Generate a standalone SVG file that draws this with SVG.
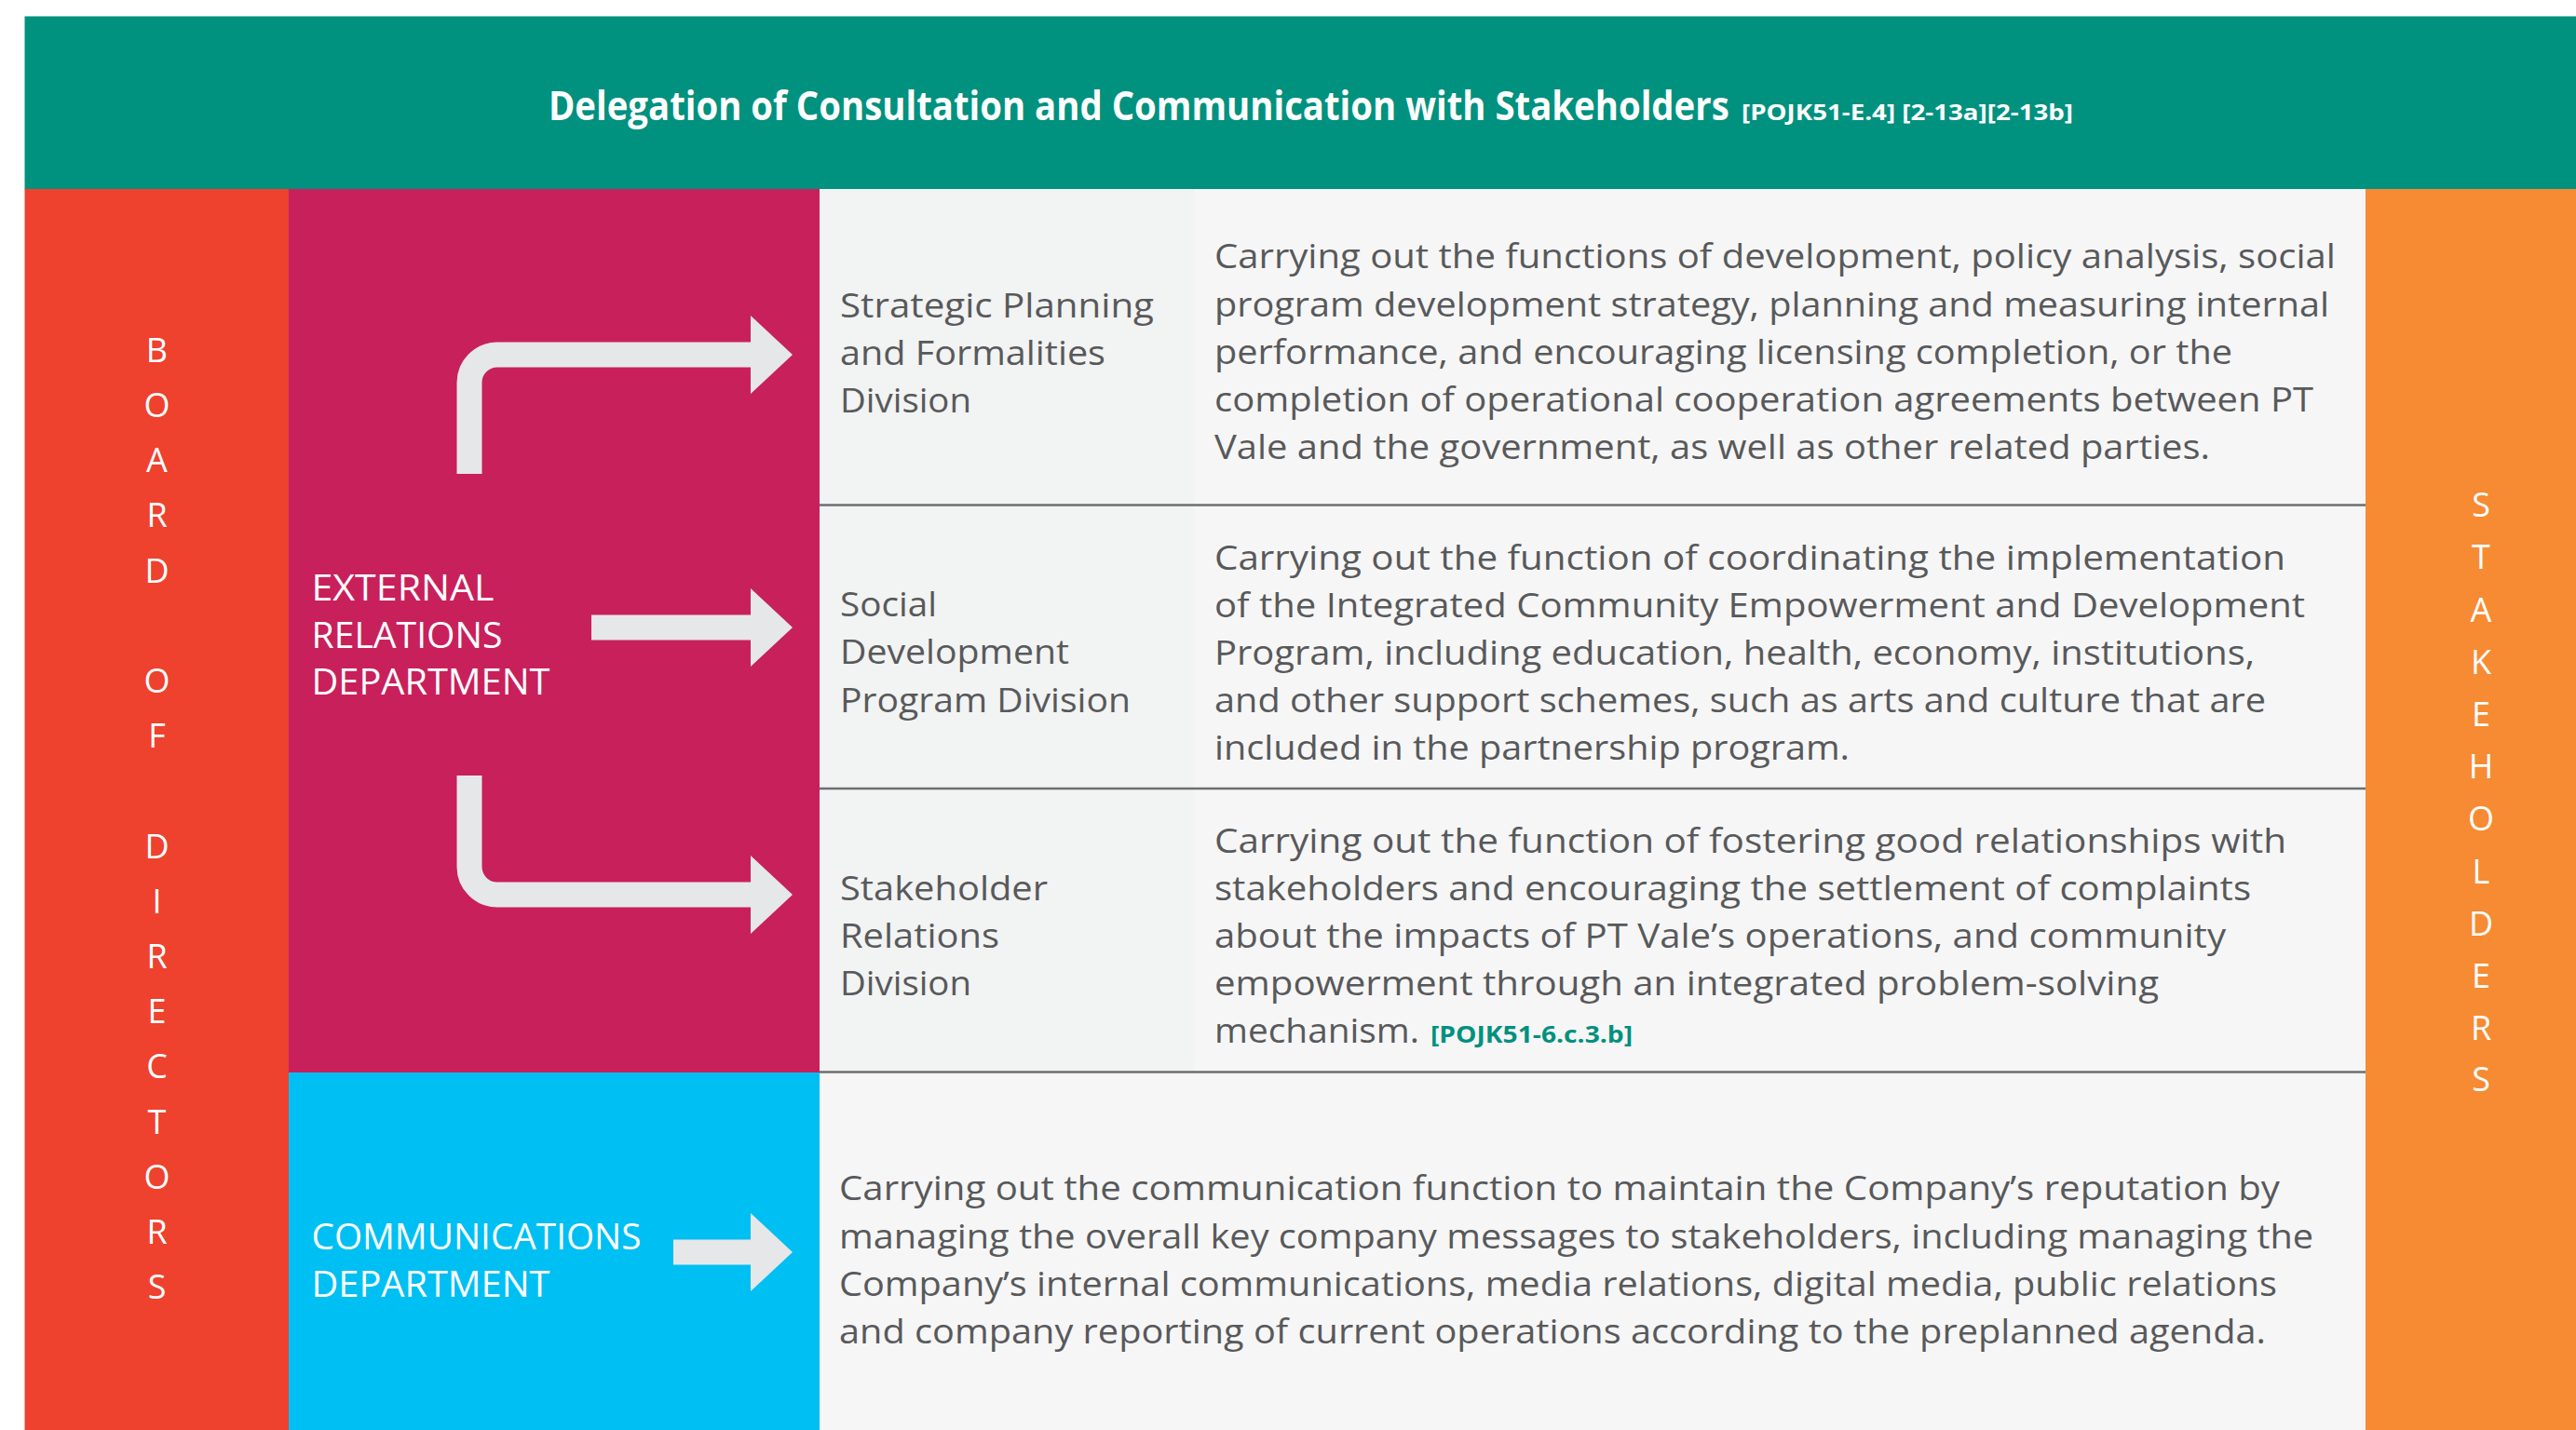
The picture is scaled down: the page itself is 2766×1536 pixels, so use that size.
<svg xmlns="http://www.w3.org/2000/svg" width="2766" height="1536" viewBox="0 0 2766 1536">
<style>
.body{font-family:"Open Sans","Noto Sans","Liberation Sans",sans-serif;font-size:36px;fill:#58595B}
.dept{font-family:"Open Sans","Noto Sans","Liberation Sans",sans-serif;font-size:38px;fill:#FFFFFF}
.vert{font-family:"Open Sans","Noto Sans","Liberation Sans",sans-serif;font-size:36px;fill:#FFFFFF;text-anchor:middle}
.title{font-family:"Open Sans","Noto Sans","Liberation Sans",sans-serif;font-weight:700;fill:#FFFFFF}
.ref{font-family:"Open Sans","Noto Sans","Liberation Sans",sans-serif;font-weight:700;font-size:25px;fill:#00907F}
.divider{stroke:#6D6E70;stroke-width:2.5}
.arrow{fill:none;stroke:#E6E7E8;stroke-width:27;marker-end:url(#head)}
</style>
<defs>
<marker id="head" markerUnits="userSpaceOnUse" viewBox="0 -42 45 84" markerWidth="45" markerHeight="84" refX="1" refY="0" orient="auto">
<path d="M0,-42 L45,0 L0,42 Z" fill="#E6E7E8"/>
</marker>
</defs>
<rect width="2766" height="1536" fill="#FFFFFF"/>

<g id="header">
<rect x="26.5" y="17.5" width="2739.5" height="186" fill="#00917F"/>
<text class="title" transform="translate(589,129) scale(0.82,1)" x="0" y="0" font-size="43" textLength="1546" lengthAdjust="spacingAndGlyphs">Delegation of Consultation and Communication with Stakeholders</text>
<text class="title" x="1870" y="129" font-size="22.5" textLength="356" lengthAdjust="spacingAndGlyphs">[POJK51-E.4] [2-13a][2-13b]</text>
</g>

<g id="board-of-directors">
<rect x="26.5" y="203" width="284" height="1333" fill="#EE412E"/>
<text class="vert" x="168.5" y="389">B</text>
<text class="vert" x="168.5" y="448">O</text>
<text class="vert" x="168.5" y="507">A</text>
<text class="vert" x="168.5" y="566">R</text>
<text class="vert" x="168.5" y="625.5">D</text>
<text class="vert" x="168.5" y="744">O</text>
<text class="vert" x="168.5" y="803">F</text>
<text class="vert" x="168.5" y="921.5">D</text>
<text class="vert" x="168.5" y="980.5">I</text>
<text class="vert" x="168.5" y="1040">R</text>
<text class="vert" x="168.5" y="1099">E</text>
<text class="vert" x="168.5" y="1158">C</text>
<text class="vert" x="168.5" y="1217.5">T</text>
<text class="vert" x="168.5" y="1276.5">O</text>
<text class="vert" x="168.5" y="1335.5">R</text>
<text class="vert" x="168.5" y="1395">S</text>
</g>

<g id="external-relations-department">
<rect x="310" y="203" width="570" height="949.5" fill="#C8205B"/>
<text class="dept" x="334.5" y="645" textLength="196" lengthAdjust="spacingAndGlyphs">EXTERNAL</text>
<text class="dept" x="334.5" y="695.5" textLength="205" lengthAdjust="spacingAndGlyphs">RELATIONS</text>
<text class="dept" x="334.5" y="746" textLength="256" lengthAdjust="spacingAndGlyphs">DEPARTMENT</text>
</g>

<g id="communications-department">
<rect x="310" y="1152" width="570" height="384" fill="#00BFF3"/>
<text class="dept" x="334.5" y="1341.5" textLength="354" lengthAdjust="spacingAndGlyphs">COMMUNICATIONS</text>
<text class="dept" x="334.5" y="1392.5" textLength="256" lengthAdjust="spacingAndGlyphs">DEPARTMENT</text>
</g>

<g id="stakeholders">
<rect x="2540" y="203" width="226" height="1333" fill="#F68B33"/>
<text class="vert" x="2664" y="555">S</text>
<text class="vert" x="2664" y="611">T</text>
<text class="vert" x="2664" y="667.5">A</text>
<text class="vert" x="2664" y="723.5">K</text>
<text class="vert" x="2664" y="780">E</text>
<text class="vert" x="2664" y="836">H</text>
<text class="vert" x="2664" y="892">O</text>
<text class="vert" x="2664" y="948.5">L</text>
<text class="vert" x="2664" y="1004.5">D</text>
<text class="vert" x="2664" y="1060.5">E</text>
<text class="vert" x="2664" y="1117">R</text>
<text class="vert" x="2664" y="1172">S</text>
</g>

<g id="table-background">
<rect x="880" y="203" width="1660" height="1333" fill="#F6F6F6"/>
<rect x="880" y="203" width="402" height="949" fill="#F2F3F3"/>
</g>

<g id="row-strategic-planning">
<text class="body" x="902" y="340.5" textLength="337" lengthAdjust="spacingAndGlyphs">Strategic Planning</text>
<text class="body" x="902" y="391.5" textLength="285" lengthAdjust="spacingAndGlyphs">and Formalities</text>
<text class="body" x="902" y="442.5" textLength="141" lengthAdjust="spacingAndGlyphs">Division</text>
<text class="body" x="1304" y="288" textLength="1204" lengthAdjust="spacingAndGlyphs">Carrying out the functions of development, policy analysis, social</text>
<text class="body" x="1304" y="339.5" textLength="1197" lengthAdjust="spacingAndGlyphs">program development strategy, planning and measuring internal</text>
<text class="body" x="1304" y="390.5" textLength="1093" lengthAdjust="spacingAndGlyphs">performance, and encouraging licensing completion, or the</text>
<text class="body" x="1304" y="441.5" textLength="1180" lengthAdjust="spacingAndGlyphs">completion of operational cooperation agreements between PT</text>
<text class="body" x="1304" y="492.5" textLength="1069" lengthAdjust="spacingAndGlyphs">Vale and the government, as well as other related parties.</text>
<line class="divider" x1="880" y1="542.5" x2="2540" y2="542.5"/>
</g>

<g id="row-social-development">
<text class="body" x="902" y="662" textLength="104" lengthAdjust="spacingAndGlyphs">Social</text>
<text class="body" x="902" y="713" textLength="246" lengthAdjust="spacingAndGlyphs">Development</text>
<text class="body" x="902" y="764.5" textLength="312" lengthAdjust="spacingAndGlyphs">Program Division</text>
<text class="body" x="1304" y="611.5" textLength="1150" lengthAdjust="spacingAndGlyphs">Carrying out the function of coordinating the implementation</text>
<text class="body" x="1304" y="662.5" textLength="1171" lengthAdjust="spacingAndGlyphs">of the Integrated Community Empowerment and Development</text>
<text class="body" x="1304" y="713.5" textLength="1117" lengthAdjust="spacingAndGlyphs">Program, including education, health, economy, institutions,</text>
<text class="body" x="1304" y="764.5" textLength="1129" lengthAdjust="spacingAndGlyphs">and other support schemes, such as arts and culture that are</text>
<text class="body" x="1304" y="815.5" textLength="682" lengthAdjust="spacingAndGlyphs">included in the partnership program.</text>
<line class="divider" x1="880" y1="847" x2="2540" y2="847"/>
</g>

<g id="row-stakeholder-relations">
<text class="body" x="902" y="967" textLength="223" lengthAdjust="spacingAndGlyphs">Stakeholder</text>
<text class="body" x="902" y="1017.5" textLength="171" lengthAdjust="spacingAndGlyphs">Relations</text>
<text class="body" x="902" y="1068.5" textLength="141" lengthAdjust="spacingAndGlyphs">Division</text>
<text class="body" x="1304" y="915.5" textLength="1151" lengthAdjust="spacingAndGlyphs">Carrying out the function of fostering good relationships with</text>
<text class="body" x="1304" y="966.5" textLength="1113" lengthAdjust="spacingAndGlyphs">stakeholders and encouraging the settlement of complaints</text>
<text class="body" x="1304" y="1017.5" textLength="1086" lengthAdjust="spacingAndGlyphs">about the impacts of PT Vale’s operations, and community</text>
<text class="body" x="1304" y="1068.5" textLength="1014" lengthAdjust="spacingAndGlyphs">empowerment through an integrated problem-solving</text>
<text class="body" y="1119.5"><tspan x="1304" textLength="220" lengthAdjust="spacingAndGlyphs">mechanism.</tspan><tspan class="ref" x="1536" textLength="217" lengthAdjust="spacingAndGlyphs">[POJK51-6.c.3.b]</tspan></text>
<line class="divider" x1="880" y1="1151.5" x2="2540" y2="1151.5"/>
</g>

<g id="row-communications">
<text class="body" x="901" y="1289" textLength="1547" lengthAdjust="spacingAndGlyphs">Carrying out the communication function to maintain the Company’s reputation by</text>
<text class="body" x="901" y="1340.5" textLength="1583" lengthAdjust="spacingAndGlyphs">managing the overall key company messages to stakeholders, including managing the</text>
<text class="body" x="901" y="1391.5" textLength="1544" lengthAdjust="spacingAndGlyphs">Company’s internal communications, media relations, digital media, public relations</text>
<text class="body" x="901" y="1442.5" textLength="1532" lengthAdjust="spacingAndGlyphs">and company reporting of current operations according to the preplanned agenda.</text>
</g>

<g id="connectors">
<path class="arrow" d="M504,509 V411 A30,30 0 0 1 534,381 H807"/>
<path class="arrow" d="M635,674 H807"/>
<path class="arrow" d="M504,833 V931 A30,30 0 0 0 534,961 H807"/>
<path class="arrow" d="M723,1345 H807"/>
</g>
</svg>
